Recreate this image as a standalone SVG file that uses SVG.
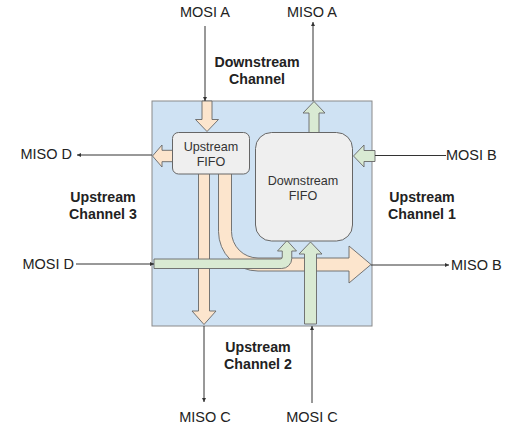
<svg xmlns="http://www.w3.org/2000/svg" width="508" height="427" viewBox="0 0 508 427">
<defs>
<style>
.box{fill:#cfe2f3;stroke:#8a8a8a;stroke-width:1}
.fifo{fill:#efefef;stroke:#666;stroke-width:1}
.or{fill:#fce5cd;stroke:#666;stroke-width:0.9;stroke-linejoin:miter}
.gr{fill:#d9ead3;stroke:#666;stroke-width:0.9;stroke-linejoin:miter}
.lbl{font-family:"Liberation Sans",Arial,sans-serif;font-size:14.5px;fill:#222}
.ch{font-family:"Liberation Sans",Arial,sans-serif;font-size:14.2px;font-weight:bold;fill:#222}
.ft{font-family:"Liberation Sans",Arial,sans-serif;font-size:12.6px;fill:#333}
.conn{stroke:#333;stroke-width:1;fill:none}
</style>
<marker id="ah" markerUnits="userSpaceOnUse" markerWidth="6" markerHeight="6" refX="4" refY="2" orient="auto">
<path d="M0,0 L4,2 L0,4 Z" fill="#333"/>
</marker>
</defs>
<rect width="508" height="427" fill="#fff"/>
<g id="channel-box"><rect class="box" x="152" y="101" width="220" height="225"/></g>
<g id="arrow-mosi-a"><polygon class="or" points="202,101 212,101 212,119.5 218.5,119.5 207,131.5 195.5,119.5 202,119.5"/></g>
<g id="arrow-miso-d"><polygon class="or" points="174,150.3 162,150.3 162,145 152.5,156 162,167 162,161.7 174,161.7"/></g>
<g id="arrow-miso-c"><polygon class="or" points="198.5,172 209.5,172 209.5,311 216,311 204,324.5 192,311 198.5,311"/></g>
<g id="arrow-miso-b"><path class="or" d="M218.5 172 L218.5 231.5 A39.5 39.5 0 0 0 258 271 L349 271 L349 283 L371 264.5 L349 246 L349 258 L258 258 A26.5 26.5 0 0 1 231.5 231.5 L231.5 172 Z"/></g>
<g id="arrow-miso-a"><polygon class="gr" points="309,133 309,113 303,113 314,101.5 325,113 319,113 319,133"/></g>
<g id="arrow-mosi-b"><polygon class="gr" points="375,150.5 364,150.5 364,145 353.5,156 364,167 364,161.5 375,161.5"/></g>
<g id="arrow-mosi-d"><path class="gr" d="M154 259 L280.25 259 Q282.25 259 282.25 257 L282.25 251 L277.5 251 L287 240.5 L296.5 251 L291.75 251 L291.75 258.5 A10 10 0 0 1 281.75 268.5 L154 268.5 Z"/></g>
<g id="arrow-mosi-c"><polygon class="gr" points="304.5,324 304.5,254 299,254 310.5,242 322,254 316.5,254 316.5,324"/></g>
<g id="upstream-fifo">
<rect class="fifo" x="172.5" y="132.5" width="77" height="41.5" rx="6"/>
<text class="ft" x="211" y="151" text-anchor="middle">Upstream</text>
<text class="ft" x="211" y="166" text-anchor="middle">FIFO</text>
</g>
<g id="downstream-fifo">
<rect class="fifo" x="255.5" y="132.5" width="97" height="108.5" rx="16"/>
<text class="ft" x="303" y="185" text-anchor="middle">Downstream</text>
<text class="ft" x="303" y="200" text-anchor="middle">FIFO</text>
</g>
<g id="label-mosi-a"><text class="lbl" x="205" y="17" text-anchor="middle">MOSI A</text></g>
<g id="label-miso-a"><text class="lbl" x="312" y="17" text-anchor="middle">MISO A</text></g>
<g id="label-miso-d"><text class="lbl" x="72" y="159" text-anchor="end">MISO D</text></g>
<g id="label-mosi-b"><text class="lbl" x="446" y="160" text-anchor="start">MOSI B</text></g>
<g id="label-mosi-d"><text class="lbl" x="74" y="269" text-anchor="end">MOSI D</text></g>
<g id="label-miso-b"><text class="lbl" x="451" y="270" text-anchor="start">MISO B</text></g>
<g id="label-miso-c"><text class="lbl" x="205" y="422" text-anchor="middle">MISO C</text></g>
<g id="label-mosi-c"><text class="lbl" x="312" y="422" text-anchor="middle">MOSI C</text></g>
<g id="label-downstream-channel">
<text class="ch" x="257" y="67" text-anchor="middle">Downstream</text>
<text class="ch" x="257" y="84" text-anchor="middle">Channel</text>
</g>
<g id="label-upstream-channel-1">
<text class="ch" x="422" y="202" text-anchor="middle">Upstream</text>
<text class="ch" x="422" y="219" text-anchor="middle">Channel 1</text>
</g>
<g id="label-upstream-channel-2">
<text class="ch" x="258" y="352" text-anchor="middle">Upstream</text>
<text class="ch" x="258" y="369" text-anchor="middle">Channel 2</text>
</g>
<g id="label-upstream-channel-3">
<text class="ch" x="103" y="202" text-anchor="middle">Upstream</text>
<text class="ch" x="103" y="219" text-anchor="middle">Channel 3</text>
</g>
<g id="connectors">
<line class="conn" x1="205" y1="26" x2="205" y2="101" marker-end="url(#ah)"/>
<line class="conn" x1="313" y1="101" x2="313" y2="22" marker-end="url(#ah)"/>
<line class="conn" x1="152" y1="155" x2="77" y2="155" marker-end="url(#ah)"/>
<line class="conn" x1="446" y1="155.5" x2="375" y2="155.5"/>
<line class="conn" x1="371" y1="265" x2="449" y2="265" marker-end="url(#ah)"/>
<line class="conn" x1="76" y1="264" x2="154" y2="264" marker-end="url(#ah)"/>
<line class="conn" x1="204" y1="326" x2="204" y2="402" marker-end="url(#ah)"/>
<line class="conn" x1="312" y1="403" x2="312" y2="326" marker-end="url(#ah)"/>
</g>
</svg>
